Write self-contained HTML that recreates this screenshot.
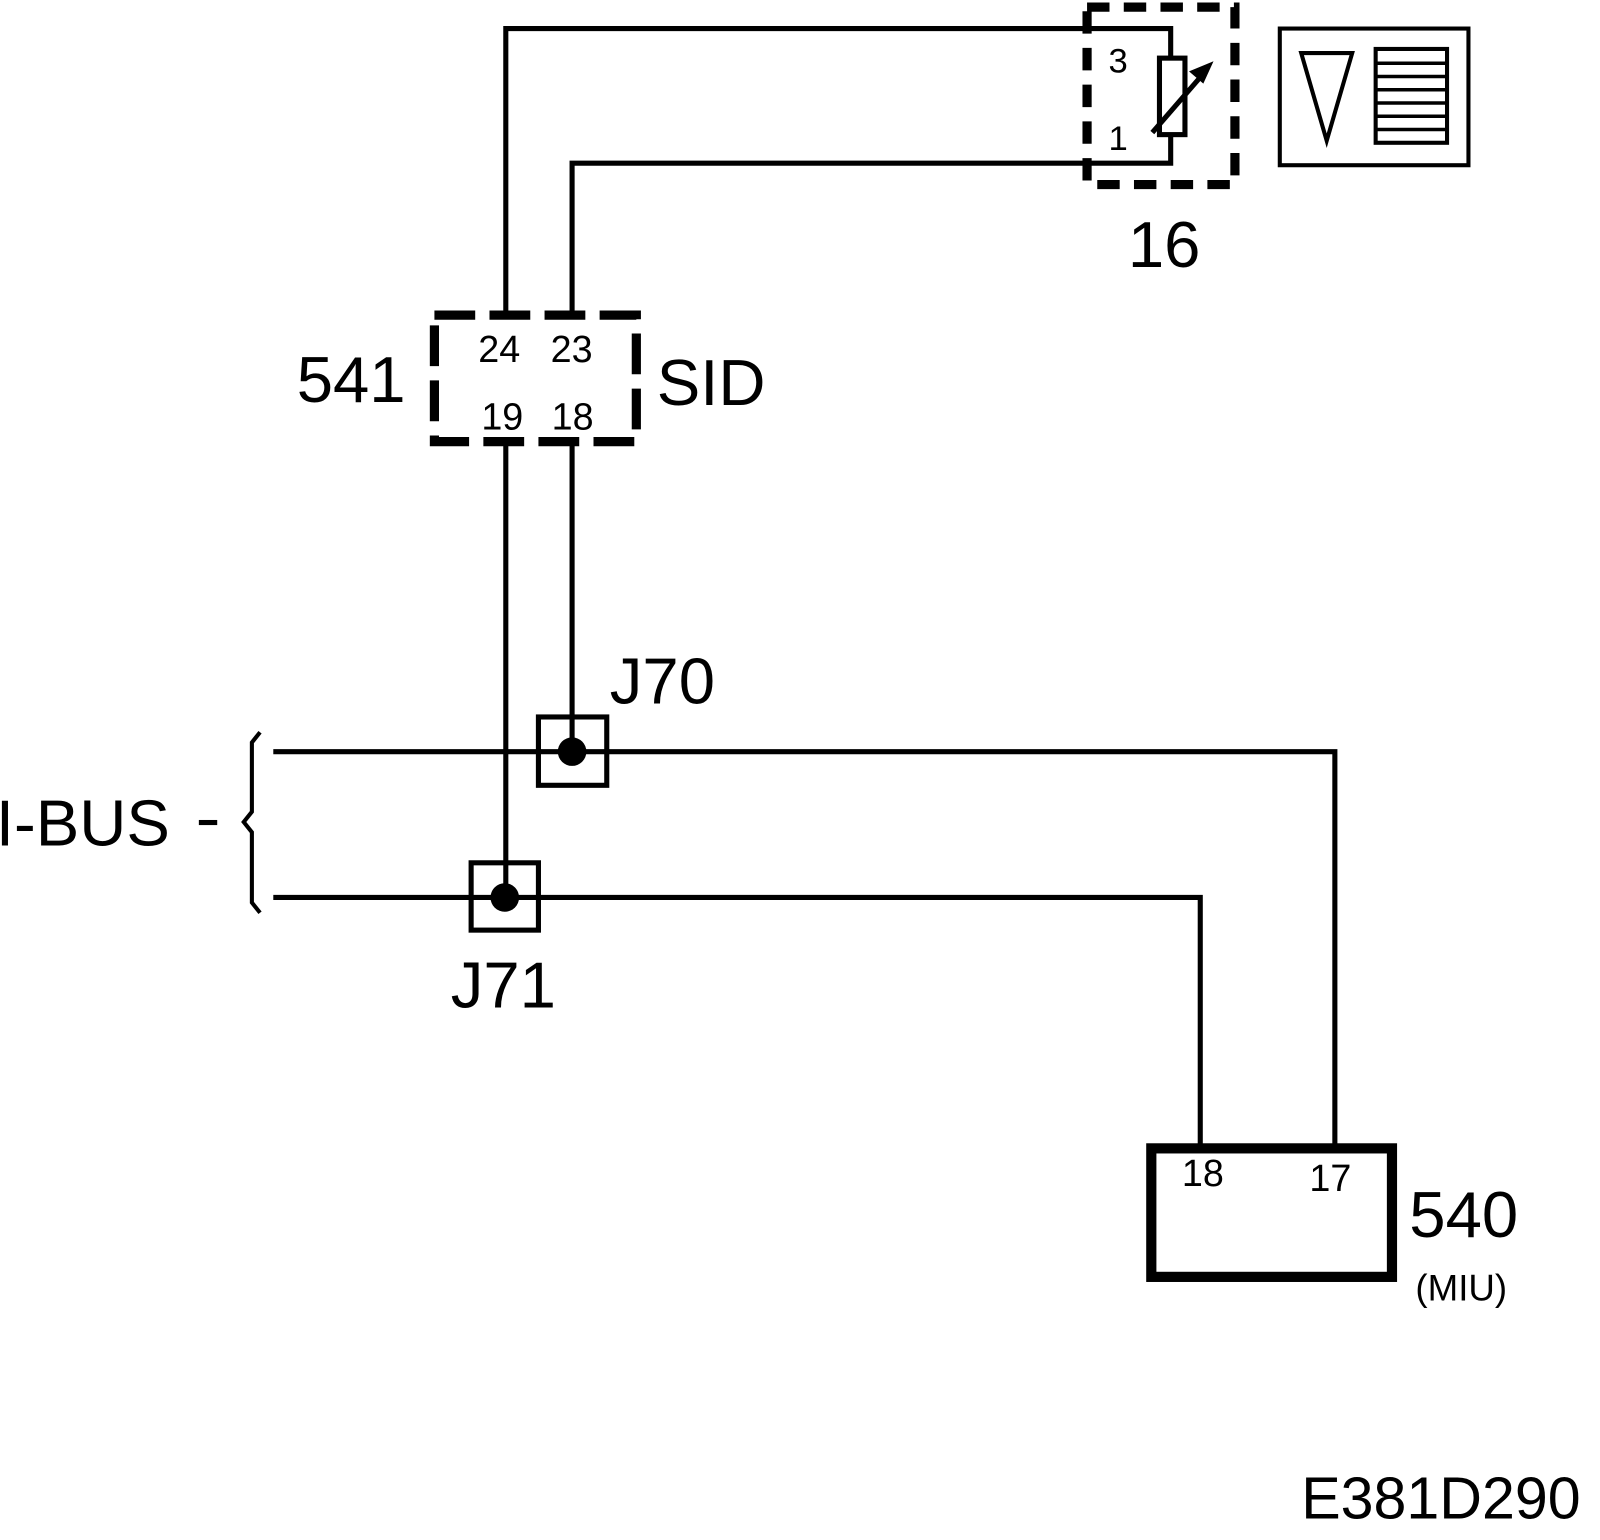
<!DOCTYPE html>
<html><head><style>html,body{margin:0;padding:0;background:#fff}svg{display:block}text{font-family:"Liberation Sans",sans-serif;fill:#000}</style></head>
<body>
<svg width="1600" height="1540" viewBox="0 0 1569 1510" preserveAspectRatio="none" xmlns="http://www.w3.org/2000/svg">
<g fill="none" stroke="#000" stroke-width="5">
<polyline points="496,305 496,28 1148,28 1148,57"/>
<polyline points="561,305 561,160 1148,160 1148,132"/>
<line x1="496" y1="437" x2="496" y2="880"/>
<line x1="561" y1="437" x2="561" y2="737"/>
<polyline points="268,737 1309,737 1309,1122"/>
<polyline points="268,880 1177,880 1177,1122"/>
<rect x="1137" y="57" width="25" height="75" fill="#fff"/>
<line x1="1130" y1="130" x2="1182" y2="70"/>
<rect x="1066" y="7" width="145" height="174" stroke-width="9" stroke-dasharray="22,14"/>
<rect x="1255" y="28" width="185" height="134" stroke-width="4"/>
<polygon points="1276,52 1326,52 1301,138" stroke-width="4"/>
<rect x="1349" y="48" width="70" height="92" stroke-width="4"/>
<g stroke-width="3.5"><line x1="1349" y1="62" x2="1419" y2="62"/><line x1="1349" y1="75" x2="1419" y2="75"/><line x1="1349" y1="88" x2="1419" y2="88"/><line x1="1349" y1="101" x2="1419" y2="101"/><line x1="1349" y1="114" x2="1419" y2="114"/><line x1="1349" y1="127" x2="1419" y2="127"/></g>
<rect x="426" y="309" width="198" height="124" stroke-width="9" stroke-dasharray="40,14"/>
<rect x="528" y="703" width="67" height="67" stroke-width="5"/>
<rect x="462" y="846" width="66" height="66" stroke-width="5"/>
<polyline points="255,718 247,728 247,796 239,806 247,816 247,885 255,895" stroke-width="4"/>
<rect x="1129" y="1126" width="236" height="126" stroke-width="10"/>
</g>
<polygon points="1190,60 1166,70 1180,82" fill="#000"/>
<circle cx="561" cy="737" r="14" fill="#000"/>
<circle cx="495" cy="880" r="14" fill="#000"/>
<text x="1087" y="71" font-size="34">3</text>
<text x="1087" y="147" font-size="34">1</text>
<text x="1106" y="262" font-size="64">16</text>
<text x="469" y="355" font-size="37">24</text>
<text x="540" y="355" font-size="37">23</text>
<text x="472" y="421" font-size="37">19</text>
<text x="541" y="421" font-size="37">18</text>
<text x="291" y="394" font-size="64">541</text>
<text x="644" y="397" font-size="64">SID</text>
<text x="598" y="690" font-size="64">J70</text>
<text x="442" y="988" font-size="64">J71</text>
<text x="-4" y="829" font-size="64">I-BUS</text>
<rect x="195" y="804" width="18" height="5" fill="#000"/>
<text x="1159" y="1163" font-size="37">18</text>
<text x="1284" y="1168" font-size="37">17</text>
<text x="1382" y="1213" font-size="64">540</text>
<text x="1388" y="1275" font-size="36">(MIU)</text>
<text x="1550" y="1489" font-size="58" text-anchor="end">E381D290</text>
</svg>
</body></html>
